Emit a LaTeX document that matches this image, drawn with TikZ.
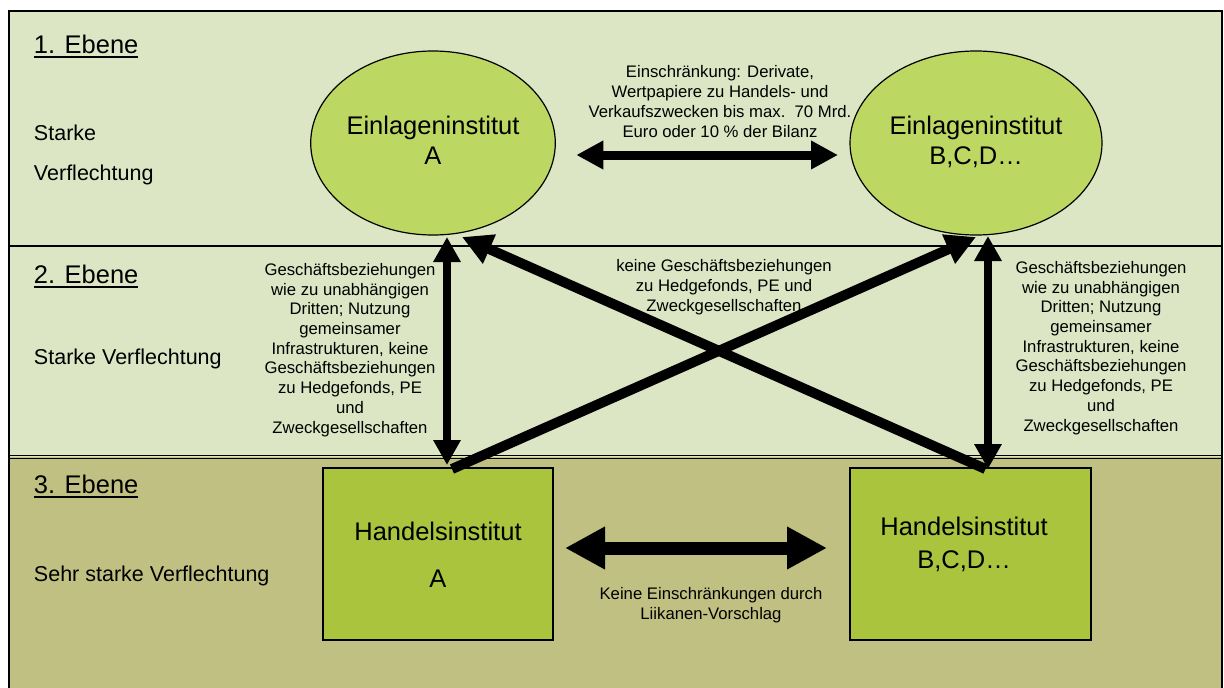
\documentclass[tikz,border=0pt]{standalone}
\usepackage{fontspec}
\setmainfont{Liberation Sans}
\usetikzlibrary{arrows.meta,shapes.geometric}

\definecolor{bandlight}{RGB}{220,230,196}
\definecolor{bandkhaki}{RGB}{193,192,131}
\definecolor{ellfill}{RGB}{188,216,98}
\definecolor{boxfill}{RGB}{170,196,62}

% underlined level heading with a heavier rule than \underline
\newcommand\levelul[1]{\setbox0\hbox{#1}\rlap{\rule[-4.5pt]{\wd0}{1.6pt}}\box0}

\begin{document}
\begin{tikzpicture}[x=1pt,y=-1pt,
  every node/.style={inner sep=0pt,outer sep=0pt},
  leveltxt/.style={font=\fontsize{25.5}{30}\selectfont,anchor=base west},
  sidetxt/.style={font=\fontsize{21.5}{40}\selectfont,anchor=base west,align=left},
  bigtxt/.style={font=\fontsize{25.5}{30}\selectfont,anchor=base,align=center},
  smalltxt/.style={font=\fontsize{16.7}{19.7}\selectfont,anchor=base,align=center},
  institut/.style={ellipse,draw=black,line width=1.2pt,fill=ellfill,
    minimum height=184pt,font=\fontsize{25.5}{30}\selectfont,align=center},
  handel/.style={rectangle,draw=black,line width=1.2pt,fill=boxfill,
    minimum height=172pt},
  toparrow/.style={line width=9pt,
    {Triangle[width=27pt,length=27pt]}-{Triangle[width=27pt,length=27pt]}},
  botarrow/.style={line width=13pt,
    {Triangle[width=40pt,length=40pt]}-{Triangle[width=40pt,length=40pt]}},
  vertarrow/.style={line width=8pt,
    {Triangle[width=26pt,length=25pt]}-{Triangle[width=26pt,length=25pt]}},
  diagarrow/.style={line width=10pt,-{Triangle[width=30pt,length=30pt]}}
]
\useasboundingbox (0,0) rectangle (1224,688);

% level bands
\fill[bandlight] (9,11) rectangle (1222,457);
\fill[bandkhaki] (9,457) rectangle (1222,700);
\draw[line width=1.2pt] (9,246) -- (1222,246);
\draw[line width=1pt] (9,455) -- (1222,455);
\draw[line width=1pt] (9,458.5) -- (1222,458.5);
\draw[line width=1.5pt] (9,11) rectangle (1222,700);

% level headings and descriptions (multi-line nodes sit on their last baseline)
\node[leveltxt] (lv1) at (34,53) {\levelul{1. Ebene}};
\node[sidetxt] (ds1) at (34,180) {Starke\\Verflechtung};
\node[leveltxt] (lv2) at (34,283) {\levelul{2. Ebene}};
\node[sidetxt] (ds2) at (34,364) {Starke Verflechtung};
\node[leveltxt] (lv3) at (34,493) {\levelul{3. Ebene}};
\node[sidetxt] (ds3) at (34,581) {Sehr starke Verflechtung};

% institutions
\node[institut,minimum width=244pt,text depth=6pt] (eA) at (433,143) {Einlageninstitut\\A};
\node[institut,minimum width=252pt,text depth=5pt] (eB) at (976,143) {Einlageninstitut\\B,C,D\dots};
\node[handel,minimum width=230pt] (rA) at (438,554) {};
\node[handel,minimum width=241pt] (rB) at (970.5,554) {};
\node[bigtxt] (tA) at (438,587) {Handelsinstitut\\[17pt]A};
\node[bigtxt] (tB) at (964,568) {Handelsinstitut\\[3pt]B,C,D\dots};

% relation labels
\node[smalltxt] (n1) at (720,137) {Einschränkung: Derivate,\\Wertpapiere zu Handels- und\\Verkaufszwecken bis max.\ \ 70 Mrd.\\Euro oder 10 \% der Bilanz};
\node[smalltxt] (n2) at (350,433) {Geschäftsbeziehungen\\wie zu unabhängigen\\Dritten; Nutzung\\gemeinsamer\\Infrastrukturen, keine\\Geschäftsbeziehungen\\zu Hedgefonds, PE\\und\\Zweckgesellschaften};
\node[smalltxt] (n3) at (1101,431) {Geschäftsbeziehungen\\wie zu unabhängigen\\Dritten; Nutzung\\gemeinsamer\\Infrastrukturen, keine\\Geschäftsbeziehungen\\zu Hedgefonds, PE\\und\\Zweckgesellschaften};
\node[smalltxt] (n4) at (724,311) {keine Geschäftsbeziehungen\\zu Hedgefonds, PE und\\Zweckgesellschaften};
\node[smalltxt] (n5) at (711,619) {Keine Einschränkungen durch\\Liikanen-Vorschlag};

% connectors
\draw[toparrow] ([xshift=21pt,yshift=-12pt]eA.east) -- ([xshift=-12pt,yshift=-12pt]eB.west);
\draw[botarrow] ([xshift=12pt,yshift=6pt]rA.east) -- ([xshift=-23pt,yshift=6pt]rB.west);
\draw[vertarrow] ([xshift=14pt,yshift=-2pt]eA.south) -- ([xshift=9pt,yshift=3pt]rA.north);
\draw[vertarrow] ([xshift=12pt,yshift=-1pt]eB.south) -- ([xshift=17.5pt,yshift=-1pt]rB.north);
\draw[diagarrow] ([xshift=14pt,yshift=-1pt]rA.north) -- ([yshift=-2pt]eB.south);
\draw[diagarrow] ([xshift=15pt,yshift=-1pt]rB.north) -- ([xshift=29pt,yshift=-2pt]eA.south);
\end{tikzpicture}
\end{document}
